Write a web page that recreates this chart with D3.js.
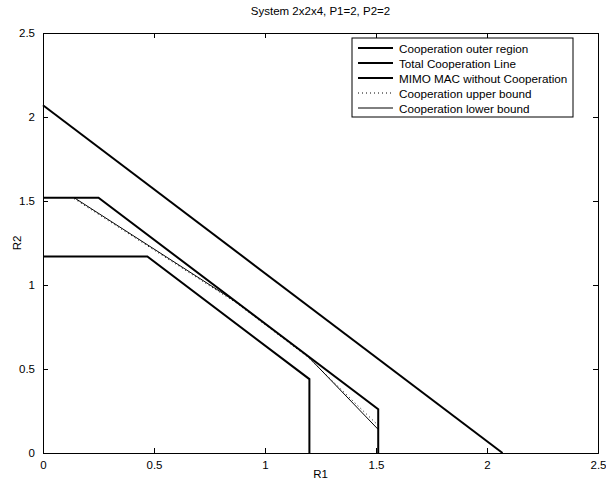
<html>
<head>
<script src="https://cdnjs.cloudflare.com/ajax/libs/d3/7.8.5/d3.min.js"></script>
<style>
  body { margin: 0; background: #fff; }
  text { font-family: "Liberation Sans", Arial, sans-serif; fill: #000; }
</style>
</head>
<body>
<div id="chart"></div>
<script>
// series as [R1, R2] vertices
const outerRegion = [[0, 1.52], [0.25, 1.52], [1.51, 0.26], [1.51, 0]];
const totalLine = [[0, 2.07], [2.07, 0]];
const mimoMac = [[0, 1.17], [0.47, 1.17], [1.2, 0.44], [1.2, 0]];
const upperBound = [[0.14, 1.52], [0.87, 0.9], [1.19, 0.58], [1.51, 0.17]];
const lowerBound = [[0.14, 1.52], [0.87, 0.9], [1.19, 0.58], [1.51, 0.14]];

const legendLabels = [
  "Cooperation outer region",
  "Total Cooperation Line",
  "MIMO MAC without Cooperation",
  "Cooperation upper bound",
  "Cooperation lower bound"
];
const ticks = [0, 0.5, 1, 1.5, 2, 2.5];

const w = 606, h = 480;
const m = { left: 43, right: 8, top: 33, bottom: 27 };

const svg = d3.select("#chart").append("svg")
  .attr("width", w).attr("height", h);

const x = d3.scaleLinear().domain([0, 2.5]).range([m.left, w - m.right]);
const y = d3.scaleLinear().domain([0, 2.5]).range([h - m.bottom, m.top]);

// axes box with inward ticks on all sides
const fmt = d => d3.format("")(d);
svg.append("g").attr("transform", `translate(0,${y(0)})`)
  .call(d3.axisBottom(x).tickValues(ticks).tickSize(-5).tickPadding(8).tickFormat(fmt));
svg.append("g").attr("transform", `translate(0,${y(2.5)})`)
  .call(d3.axisTop(x).tickValues(ticks).tickSize(-5).tickFormat(""));
svg.append("g").attr("transform", `translate(${x(0)},0)`)
  .call(d3.axisLeft(y).tickValues(ticks).tickSize(-5).tickPadding(8).tickFormat(fmt));
svg.append("g").attr("transform", `translate(${x(2.5)},0)`)
  .call(d3.axisRight(y).tickValues(ticks).tickSize(-5).tickFormat(""));

svg.selectAll(".domain").attr("stroke", "#000").attr("stroke-width", 1);
svg.selectAll(".tick line").attr("stroke", "#000");
svg.selectAll(".tick text").style("font-size", "11.5px");

const line = d3.line().x(d => x(d[0])).y(d => y(d[1]));

const series = [
  { data: outerRegion, width: 2, dash: null },
  { data: totalLine, width: 2, dash: null },
  { data: mimoMac, width: 2, dash: null },
  { data: upperBound, width: 1, dash: "1,3" },
  { data: lowerBound, width: 1, dash: null }
];

svg.append("g").selectAll("path").data(series).enter().append("path")
  .attr("d", d => line(d.data))
  .attr("fill", "none")
  .attr("stroke", "#000")
  .attr("stroke-width", d => d.width)
  .attr("stroke-dasharray", d => d.dash)
  .attr("transform", (d, i) => i === 3 ? "translate(0,1)" : null);

// title and labels
svg.append("text").attr("x", (x(0) + x(2.5)) / 2).attr("y", 15)
  .attr("text-anchor", "middle").style("font-size", "11.5px")
  .text("System 2x2x4, P1=2, P2=2");
svg.append("text").attr("x", (x(0) + x(2.5)) / 2).attr("y", 478)
  .attr("text-anchor", "middle").style("font-size", "11.5px").text("R1");
svg.append("text").attr("transform", `translate(21,${(y(0) + y(2.5)) / 2}) rotate(-90)`)
  .attr("text-anchor", "middle").style("font-size", "11.5px").text("R2");

// legend
const lg = svg.append("g").attr("transform", "translate(352,38)");
lg.append("rect").attr("width", 221).attr("height", 79)
  .attr("fill", "#fff").attr("stroke", "#000").attr("stroke-width", 1);
const rows = lg.selectAll("g.row").data(series).enter().append("g")
  .attr("transform", (d, i) => `translate(0,${10 + i * 15})`);
rows.append("line").attr("x1", 6).attr("x2", 41).attr("y1", 0).attr("y2", 0)
  .attr("stroke", "#000")
  .attr("stroke-width", d => d.width)
  .attr("stroke-dasharray", d => d.dash);
rows.append("text").attr("x", 47).attr("y", 4.5).style("font-size", "11.7px")
  .text((d, i) => legendLabels[i]);
</script>
</body>
</html>
